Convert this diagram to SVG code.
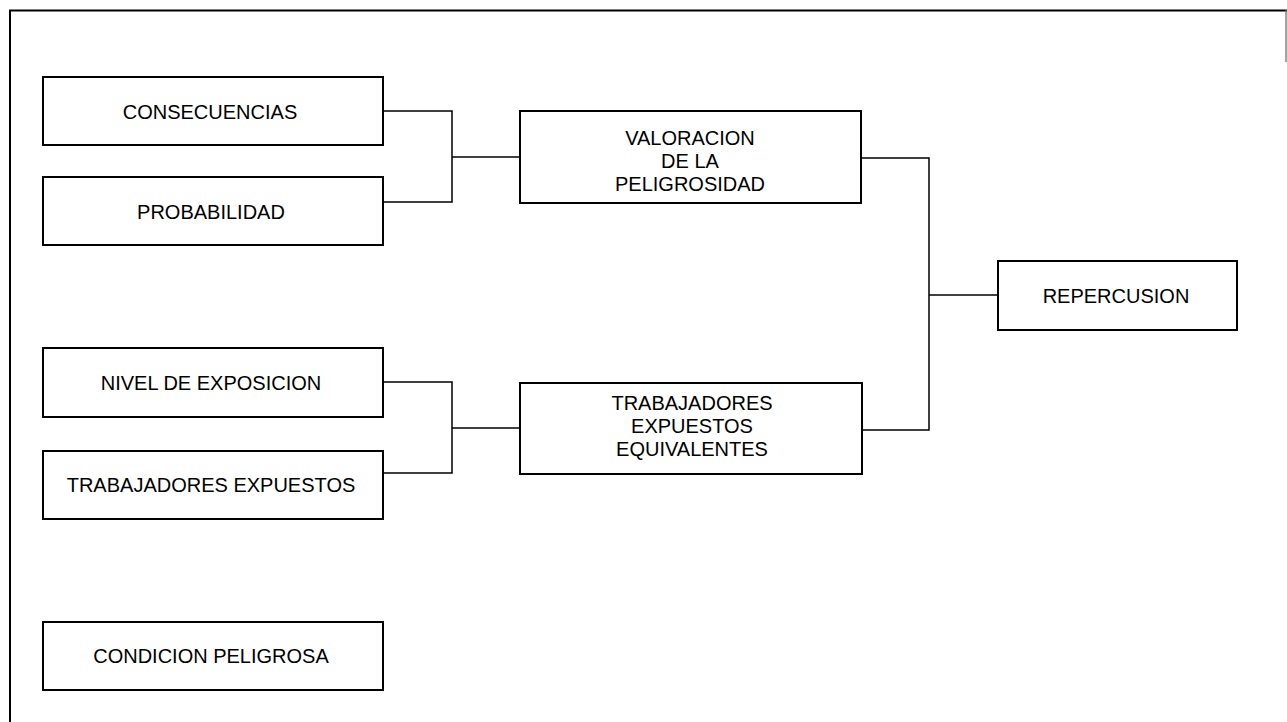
<svg xmlns="http://www.w3.org/2000/svg" width="1287" height="722" viewBox="0 0 1287 722">
<style>
.box{fill:#fff;stroke:#000;stroke-width:2}
.lbl{font-family:"Liberation Sans",Arial,sans-serif;font-size:20px;fill:#000;text-anchor:middle}
.con{fill:none;stroke:#000;stroke-width:1.5}
.frame{fill:none;stroke:#000;stroke-width:2}
</style>
<rect width="1287" height="722" fill="#fff"/>
<path class="frame" d="M10,722 V10.5 H1287"/>
<path d="M1286,10 V62" stroke="#666" stroke-width="1.2" fill="none"/>
<g id="connectors">
<path class="con" d="M383,111 H452 V202 H383"/>
<path class="con" d="M452,157 H520"/>
<path class="con" d="M383,382 H452 V473 H383"/>
<path class="con" d="M452,428 H520"/>
<path class="con" d="M861,158 H929 V430 H862"/>
<path class="con" d="M929,295 H998"/>
</g>
<g id="consecuencias"><rect class="box" x="43" y="77" width="340" height="68"/><text class="lbl" x="210" y="119">CONSECUENCIAS</text></g>
<g id="probabilidad"><rect class="box" x="43" y="177" width="340" height="68"/><text class="lbl" x="211" y="219">PROBABILIDAD</text></g>
<g id="valoracion"><rect class="box" x="520" y="111" width="341" height="92"/><text class="lbl" x="690" y="145">VALORACION</text><text class="lbl" x="690" y="168">DE LA</text><text class="lbl" x="690" y="191">PELIGROSIDAD</text></g>
<g id="repercusion"><rect class="box" x="998" y="261" width="239" height="69"/><text class="lbl" x="1116" y="303">REPERCUSION</text></g>
<g id="nivel"><rect class="box" x="43" y="348" width="340" height="69"/><text class="lbl" x="211" y="390">NIVEL DE EXPOSICION</text></g>
<g id="trabajadores"><rect class="box" x="43" y="451" width="340" height="68"/><text class="lbl" x="211" y="492">TRABAJADORES EXPUESTOS</text></g>
<g id="equivalentes"><rect class="box" x="520" y="383" width="342" height="91"/><text class="lbl" x="692" y="410">TRABAJADORES</text><text class="lbl" x="692" y="433">EXPUESTOS</text><text class="lbl" x="692" y="456">EQUIVALENTES</text></g>
<g id="condicion"><rect class="box" x="43" y="622" width="340" height="68"/><text class="lbl" x="211" y="663">CONDICION PELIGROSA</text></g>
</svg>
